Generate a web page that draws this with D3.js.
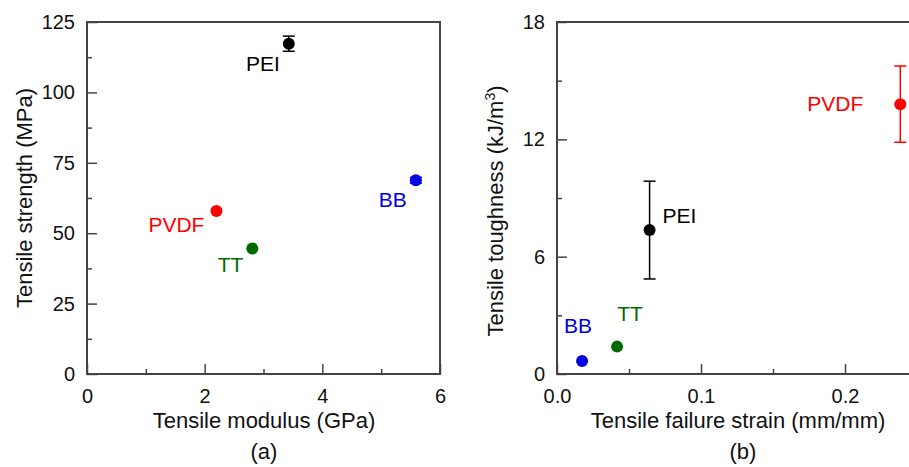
<!DOCTYPE html>
<meta charset="utf-8">
<title>Tensile properties</title>
<style>
  body { margin: 0; background: #fff; }
  svg { font-family: Arial, "Liberation Sans", sans-serif; }
</style>
<svg width="909" height="467"></svg>
<script src="https://d3js.org/d3.v7.min.js"></script>
<script>

// materials and their colours
var names = ["PEI", "PVDF", "TT", "BB"];
var colors = ["#000000", "#ff0000", "#006a00", "#0000e0"];

// panel (a)
var modulus = [3.43, 2.2, 2.81, 5.59];        // GPa
var modulusErr = [0, 0, 0, 0.07];
var strength = [117.3, 57.9, 44.6, 68.8];     // MPa
var strengthErr = [2.7, 0, 0, 1.0];

// panel (b)
var strain = [0.0643, 0.2384, 0.0417, 0.0174];  // mm/mm
var toughness = [7.36, 13.8, 1.4, 0.66];        // kJ/m3
var toughnessErr = [2.5, 1.95, 0, 0];

var xTicksA = [0, 2, 4, 6], xMinorA = [1, 3, 5];
var yTicksA = [0, 25, 50, 75, 100, 125], yMinorA = [12.5, 37.5, 62.5, 87.5, 112.5];
var xTicksB = [0, 0.1, 0.2], xMinorB = [0.05, 0.15, 0.25];
var yTicksB = [0, 6, 12, 18], yMinorB = [3, 9, 15];

var svg = d3.select("svg");
var plotTop = 22, plotBottom = 374;

function panel(opt) {
  var x = d3.scaleLinear().domain(opt.xDomain).range([opt.left, opt.right]);
  var y = d3.scaleLinear().domain(opt.yDomain).range([plotBottom, plotTop]);
  var g = svg.append("g");

  // minor ticks
  g.append("g").attr("transform", "translate(0," + plotBottom + ")")
    .call(d3.axisBottom(x).tickValues(opt.xMinor).tickSize(-5).tickFormat(""));
  g.append("g").attr("transform", "translate(" + opt.left + ",0)")
    .call(d3.axisLeft(y).tickValues(opt.yMinor).tickSize(-5).tickFormat(""));

  // major ticks
  g.append("g").attr("transform", "translate(0," + plotBottom + ")")
    .call(d3.axisBottom(x).tickValues(opt.xTicks).tickSize(-10).tickPadding(15).tickFormat(opt.xFormat));
  g.append("g").attr("transform", "translate(" + opt.left + ",0)")
    .call(d3.axisLeft(y).tickValues(opt.yTicks).tickSize(-10).tickPadding(12).tickFormat(d3.format("d")));

  g.selectAll(".domain").remove();
  g.selectAll(".tick line").attr("stroke", "#444").attr("stroke-width", 1.5);
  g.selectAll(".tick text").attr("fill", "#111").style("font-size", "20px")
    .style("font-family", "Arial, 'Liberation Sans', sans-serif");

  // frame
  g.append("rect")
    .attr("x", opt.left).attr("y", plotTop)
    .attr("width", opt.right - opt.left).attr("height", plotBottom - plotTop)
    .attr("fill", "none").attr("stroke", "#444").attr("stroke-width", 2);

  // error bars
  var cap = 6;
  opt.xs.forEach(function(xv, i) {
    var cx = x(xv), cy = y(opt.ys[i]);
    var c = colors[i];
    if (opt.yErr[i] > 0) {
      var y1 = y(opt.ys[i] + opt.yErr[i]), y2 = y(opt.ys[i] - opt.yErr[i]);
      g.append("line").attr("x1", cx).attr("x2", cx).attr("y1", y1).attr("y2", y2)
        .attr("stroke", c).attr("stroke-width", 1.5);
      [y1, y2].forEach(function(yy) {
        g.append("line").attr("x1", cx - cap).attr("x2", cx + cap).attr("y1", yy).attr("y2", yy)
          .attr("stroke", c).attr("stroke-width", 1.5);
      });
    }
    if (opt.xErr && opt.xErr[i] > 0) {
      g.append("line").attr("x1", x(xv - opt.xErr[i])).attr("x2", x(xv + opt.xErr[i]))
        .attr("y1", cy).attr("y2", cy).attr("stroke", c).attr("stroke-width", 1.5);
    }
  });

  // points
  g.selectAll("circle.pt").data(opt.xs).enter().append("circle")
    .attr("class", "pt")
    .attr("cx", function(d) { return x(d); })
    .attr("cy", function(d, i) { return y(opt.ys[i]); })
    .attr("r", 6)
    .attr("fill", function(d, i) { return colors[i]; });

  // labels: [dx, dy, anchor]
  g.selectAll("text.lab").data(names).enter().append("text")
    .attr("class", "lab")
    .attr("x", function(d, i) { return x(opt.xs[i]) + opt.lab[i][0]; })
    .attr("y", function(d, i) { return y(opt.ys[i]) + opt.lab[i][1]; })
    .attr("text-anchor", function(d, i) { return opt.lab[i][2]; })
    .attr("fill", function(d, i) { return colors[i]; })
    .style("font-size", "21px")
    .text(function(d) { return d; });

  // axis titles
  g.append("text")
    .attr("x", opt.xTitleX).attr("y", 428)
    .attr("text-anchor", "middle").attr("fill", "#111").style("font-size", "22px")
    .text(opt.xTitle);
  g.append("text")
    .attr("x", opt.xTitleX + opt.capDx).attr("y", 459)
    .attr("text-anchor", "middle").attr("fill", "#111").style("font-size", "22px")
    .text(opt.caption);

  var yt = g.append("text")
    .attr("transform", "translate(" + opt.yTitleX + "," + opt.yTitleY + ")rotate(-90)")
    .attr("text-anchor", "middle").attr("fill", "#111").style("font-size", "22px");
  opt.yTitle(yt);
}

panel({
  left: 87, right: 440,
  xDomain: [0, 6], yDomain: [0, 125],
  xTicks: xTicksA, xMinor: xMinorA, yTicks: yTicksA, yMinor: yMinorA,
  xFormat: d3.format("d"),
  xs: modulus, ys: strength, xErr: modulusErr, yErr: strengthErr,
  lab: [[-9, 27, "end"], [-12, 21, "end"], [-9, 24, "end"], [-9, 27, "end"]],
  xTitle: "Tensile modulus (GPa)", xTitleX: 264, caption: "(a)", capDx: 0,
  yTitleX: 32, yTitleY: 198,
  yTitle: function(t) { t.text("Tensile strength (MPa)"); }
});

panel({
  left: 557, right: 917,
  xDomain: [0, 0.25], yDomain: [0, 18],
  xTicks: xTicksB, xMinor: xMinorB, yTicks: yTicksB, yMinor: yMinorB,
  xFormat: d3.format(".1f"),
  xs: strain, ys: toughness, xErr: null, yErr: toughnessErr,
  lab: [[13, -7, "start"], [-37, 7, "end"], [13, -26, "middle"], [-4, -28, "middle"]],
  xTitle: "Tensile failure strain (mm/mm)", xTitleX: 738, caption: "(b)", capDx: 5,
  yTitleX: 503, yTitleY: 211,
  yTitle: function(t) {
    t.append("tspan").text("Tensile toughness (kJ/m");
    t.append("tspan").attr("baseline-shift", "super").style("font-size", "14px").text("3");
    t.append("tspan").text(")");
  }
});

</script>
